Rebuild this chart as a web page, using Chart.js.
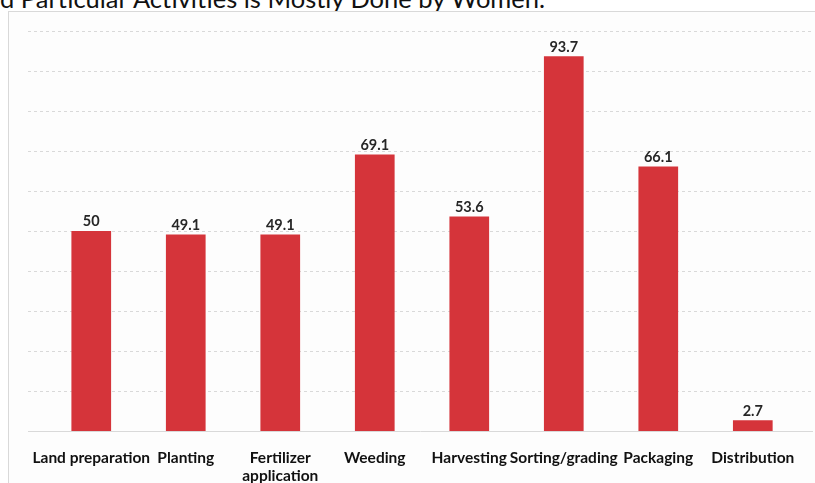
<!DOCTYPE html>
<html>
<head>
<meta charset="utf-8">
<script src="https://cdn.jsdelivr.net/npm/chart.js@4"></script>
<style>
    html, body { margin: 0; padding: 0; background: #fff; overflow: hidden; }
    body { width: 815px; height: 483px; position: relative; }
    .title {
        position: absolute; left: 0; top: -14px; white-space: nowrap;
        font-family: Lato, "Open Sans", sans-serif; font-size: 25.5px; line-height: 25px; color: #111;
    }
    .frame {
        position: absolute; left: 8px; top: 11px; width: 810px; height: 480px;
        border: 1px solid #d9d9d9; background: #fdfdfd;
    }
    .wrap { position: absolute; left: 9px; top: 12px; width: 804px; height: 471px; }
</style>
</head>
<body>
<div class="title">d Particular Activities is Mostly Done by Women.</div>
<div class="frame"></div>
<div class="wrap"><canvas id="chart"></canvas></div>
<script>
// Activities and share done by women (%)
const activities = ['Land preparation', 'Planting', ['Fertilizer', 'application'], 'Weeding',
    'Harvesting', 'Sorting/grading', 'Packaging', 'Distribution'];
const womenShare = [50, 49.1, 49.1, 69.1, 53.6, 93.7, 66.1, 2.7];
const yTicks = [0, 10, 20, 30, 40, 50, 60, 70, 80, 90, 100];

const barColor = '#d5343a';

// dashed gridlines running the full width of the frame
const gridPlugin = {
    id: 'fullGrid',
    beforeDatasetsDraw(chart) {
        const { ctx, scales } = chart;
        const y = scales.y;
        ctx.save();
        yTicks.forEach(v => {
            const py = Math.round(y.getPixelForValue(v)) + 0.5;
            ctx.beginPath();
            ctx.strokeStyle = '#d9d9d9';
            ctx.lineWidth = 1;
            ctx.setLineDash(v === 0 ? [] : [3, 3]);
            ctx.moveTo(19, py);
            ctx.lineTo(chart.width, py);
            ctx.stroke();
        });
        ctx.restore();
    }
};

const labelPlugin = {
    id: 'barLabels',
    afterDatasetsDraw(chart) {
        const { ctx } = chart;
        const meta = chart.getDatasetMeta(0);
        ctx.save();
        ctx.font = 'bold 14.5px Lato, "Open Sans", sans-serif';
        ctx.fillStyle = '#262626';
        ctx.textAlign = 'center';
        ctx.textBaseline = 'bottom';
        meta.data.forEach((bar, i) => {
            ctx.fillText(String(womenShare[i]), bar.x, bar.y - 2);
        });
        ctx.restore();
    }
};

new Chart(document.getElementById('chart'), {
    type: 'bar',
    data: {
        labels: activities,
        datasets: [{
            data: womenShare,
            backgroundColor: barColor,
            categoryPercentage: 1,
            barPercentage: 0.42
        }]
    },
    options: {
        responsive: true,
        maintainAspectRatio: false,
        animation: false,
        layout: { padding: { top: 19, left: 35, right: 11, bottom: 0 } },
        plugins: {
            legend: { display: false },
            tooltip: { enabled: false }
        },
        scales: {
            x: {
                grid: { display: false, drawTicks: false },
                border: { display: false },
                afterFit(scale) { scale.height = 52; },
                ticks: {
                    color: '#111',
                    padding: 18,
                    maxRotation: 0,
                    autoSkip: false,
                    font: { family: 'Lato, "Open Sans", sans-serif', size: 15.5, weight: 'bold', lineHeight: 1.15 }
                }
            },
            y: {
                display: false,
                min: 0,
                max: 100,
                ticks: { stepSize: 10 }
            }
        }
    },
    plugins: [gridPlugin, labelPlugin]
});
</script>
</body>
</html>
